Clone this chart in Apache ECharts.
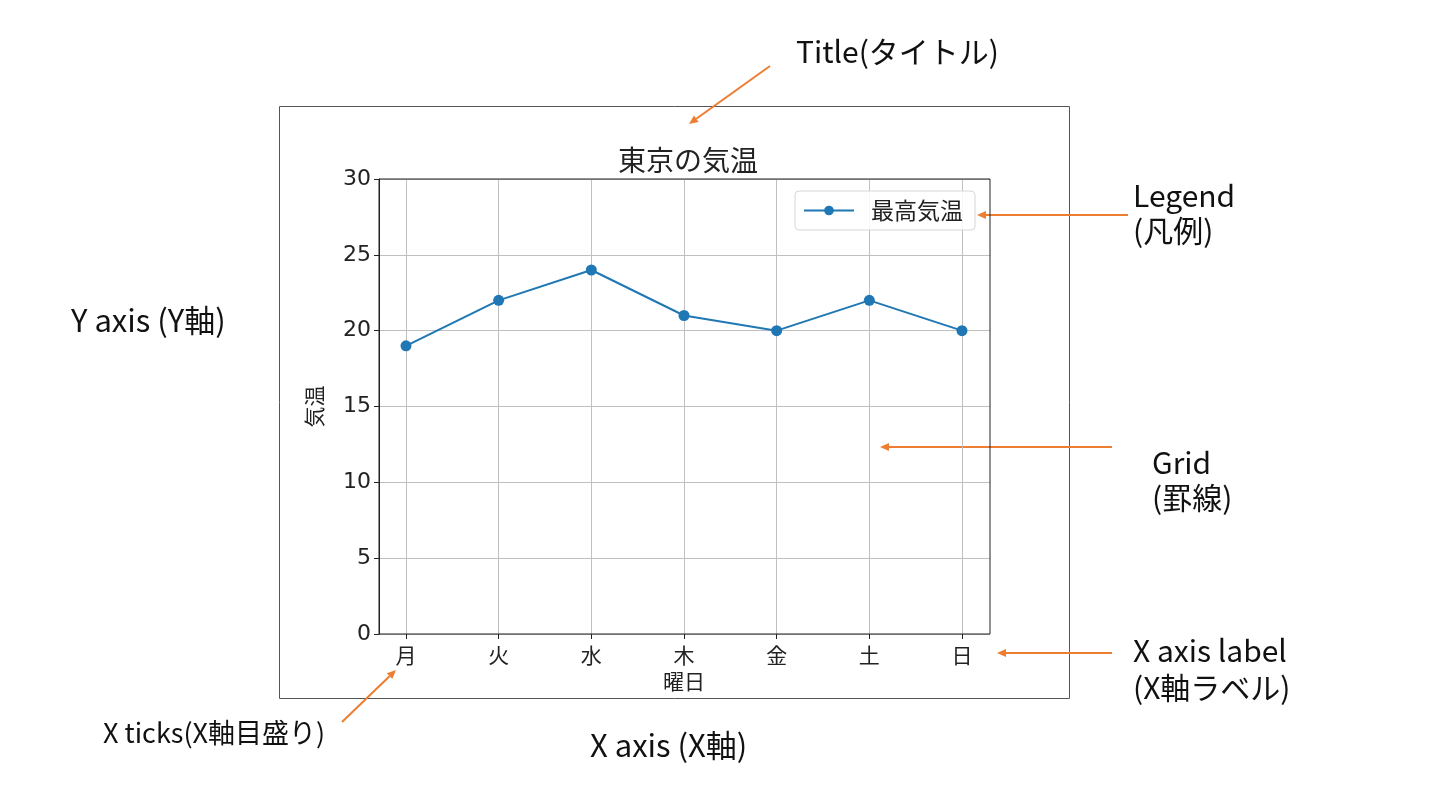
<!DOCTYPE html>
<html>
<head>
<meta charset="utf-8">
<script src="https://cdn.jsdelivr.net/npm/echarts@6/dist/echarts.min.js"></script>
<style>
html,body{margin:0;padding:0;background:#fff;}
#c{width:1433px;height:806px;}
</style>
</head>
<body>
<div id="c"></div>
<script>
// ---- data ----
var days = ['月', '火', '水', '木', '金', '土', '日'];
var maxTemps = [19, 22, 24, 21, 20, 22, 20];
var yTicks = [0, 5, 10, 15, 20, 25, 30];
var seriesName = '最高気温';
var chartTitle = '東京の気温';
var xName = '曜日';
var yName = '気温';

var chart = echarts.init(document.getElementById('c'), null, {renderer: 'canvas'});
var ORANGE = '#ed7d31';
var FONT = 'DejaVu Sans, "Noto Sans CJK JP", sans-serif';
var JFONT = '"Noto Sans CJK JP", sans-serif';

function arrow(x1, y1, x2, y2) {
  var dx = x2 - x1, dy = y2 - y1, L = Math.sqrt(dx * dx + dy * dy);
  var ux = dx / L, uy = dy / L, hl = 9, hw = 4;
  var bx = x2 - ux * hl, by = y2 - uy * hl;
  return [
    {type: 'line', shape: {x1: x1, y1: y1, x2: bx, y2: by}, style: {stroke: ORANGE, lineWidth: 2}},
    {type: 'polygon', shape: {points: [[x2, y2], [bx - uy * hw, by + ux * hw], [bx + uy * hw, by - ux * hw]]}, style: {fill: ORANGE}}
  ];
}
function label(x, y, t, size) {
  return {type: 'text', x: x, y: y, style: {text: t, font: '400 ' + (size || 30) + 'px ' + JFONT, fill: '#111', textAlign: 'left', textVerticalAlign: 'middle'}};
}

var graphics = [
  {type: 'rect', shape: {x: 279.5, y: 106.5, width: 790, height: 592}, style: {fill: 'none', stroke: '#555', lineWidth: 1}, z: -1},
  label(796, 52, 'Title(タイトル)'),
  label(1133, 196, 'Legend'),
  label(1133, 231, '(凡例)'),
  label(1152, 463, 'Grid'),
  label(1152, 498, '(罫線)'),
  label(1133, 651, 'X axis label'),
  label(1133, 688, '(X軸ラベル)'),
  label(71, 320, 'Y axis (Y軸)', 31),
  label(103, 733, 'X ticks(X軸目盛り)', 27),
  label(590, 745, 'X axis (X軸)', 31)
].concat(arrow(770, 66, 689, 124))
 .concat(arrow(1128, 215, 977, 215))
 .concat(arrow(1112, 447, 880, 447))
 .concat(arrow(1112, 653, 997, 653))
 .concat(arrow(342, 722, 396, 670));

var option = {
  backgroundColor: '#fff',
  animation: false,
  title: {
    text: chartTitle, left: 683, top: 141, textAlign: 'center',
    textStyle: {fontFamily: JFONT, fontSize: 28, fontWeight: 'normal', color: '#222'}
  },
  legend: {
    data: [seriesName], left: 795, top: 191,
    padding: [8, 12, 8, 8], itemWidth: 50, itemHeight: 12, itemGap: 10,
    borderColor: '#d6d6d6', borderWidth: 1, borderRadius: 4, backgroundColor: 'rgba(255,255,255,0.85)',
    textStyle: {fontFamily: JFONT, fontSize: 23, color: '#222', padding: [0, 0, 0, 12]}
  },
  grid: [
    {left: 406, right: 471, top: 179, bottom: 172},
    {left: 379, right: 443, top: 179, bottom: 172, show: true, borderColor: '#222', borderWidth: 1, backgroundColor: 'transparent', z: 3}
  ],
  xAxis: [
    {
      gridIndex: 0, type: 'category', data: days, boundaryGap: false,
      axisLine: {show: false},
      axisTick: {show: true, length: 5, inside: false, lineStyle: {color: '#222'}},
      axisLabel: {margin: 11, fontFamily: JFONT, fontSize: 21, color: '#222'},
      splitLine: {show: true, lineStyle: {color: '#c0c0c0', width: 1}},
      name: xName, nameLocation: 'middle', nameGap: 37,
      nameTextStyle: {fontFamily: JFONT, fontSize: 21, color: '#222'}
    },
    {gridIndex: 1, type: 'value', min: 0, max: 1, show: false}
  ],
  yAxis: [
    {gridIndex: 0, type: 'value', min: 0, max: 30, interval: 5, show: false},
    {
      gridIndex: 1, type: 'value', min: 0, max: 30, interval: 5,
      axisLine: {show: true, lineStyle: {color: '#222'}},
      axisTick: {show: true, length: 5, lineStyle: {color: '#222'}},
      axisLabel: {margin: 8, fontFamily: FONT, fontSize: 22, color: '#222',
        formatter: function (v) { return yTicks.indexOf(v) >= 0 ? String(v) : ''; }},
      splitLine: {show: true, lineStyle: {color: '#c0c0c0', width: 1}},
      name: yName, nameLocation: 'middle', nameGap: 54, nameRotate: 90,
      nameTextStyle: {fontFamily: JFONT, fontSize: 21, color: '#222'}
    }
  ],
  series: [{
    name: seriesName, type: 'line', xAxisIndex: 0, yAxisIndex: 0,
    data: maxTemps, symbol: 'circle', symbolSize: 11, showAllSymbol: true,
    lineStyle: {color: '#1f77b4', width: 2}, itemStyle: {color: '#1f77b4'}, z: 5
  }],
  graphic: graphics
};
chart.setOption(option);
</script>
</body>
</html>
